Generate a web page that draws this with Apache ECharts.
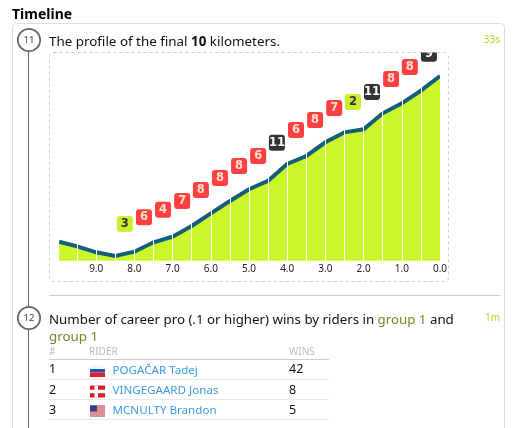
<!DOCTYPE html>
<html><head><meta charset="utf-8">
<style>html,body{margin:0;padding:0;background:#fff}#c{width:513px;height:428px}</style>
<script src="https://cdn.jsdelivr.net/npm/echarts@6/dist/echarts.min.js"></script>
</head><body><div id="c"></div>
<script>
const profileKm = [9.97,9.5,9,8.5,8,7.5,7,6.5,6,5.5,5,4.5,4,3.5,3,2.5,2,1.5,1,0.5,0];
const profileHeight = [19,14.4,8.4,4.7,9,18.4,24,34.7,47.4,59.7,71.4,80,96.7,104.7,118.4,128.4,131.4,147.4,157.4,170,184.7];
const badgeKm = [8.25,7.75,7.25,6.75,6.26,5.76,5.26,4.76,4.27,3.77,3.27,2.77,2.28,1.78,1.28,0.79,0.29];
const badgeHeight = [36.7,43.4,51,59.7,70.7,82.7,94.7,104.7,118,130.7,140.7,152.7,158.7,168.7,181.7,193.7,207];
const badgeValue = [3,6,4,7,8,8,8,6,11,6,8,7,2,11,8,8,9];
const ranks = ['1','2','3'];
const riders = ['POGAČAR Tadej','VINGEGAARD Jonas','MCNULTY Brandon'];
const wins = ['42','8','5'];
const F = 'Tahoma, "Noto Sans", sans-serif';
const fill = '#cbf62c', stroke = '#135f7a';
function badgeStyle(v){
  if (v === 2 || v === 3) return {bg:'#c8f02c', fg:'#333333'};
  if (v === 9 || v === 11) return {bg:'#333333', fg:'#ffffff'};
  return {bg:'#ff4040', fg:'#ffe0d0'};
}
const T = (x,y,text,o={}) => ({type:'text',x,y,style:Object.assign({text,fill:'#111',font:'13.4px '+F,textVerticalAlign:'middle'},o)});
const L = (x1,y1,x2,y2,c,w=1) => ({type:'line',shape:{x1,y1,x2,y2},style:{stroke:c,lineWidth:w}});
const R = (x,y,w,h,c) => ({type:'rect',shape:{x,y,width:w,height:h},style:{fill:c}});
const circle = (cy,t) => [
  {type:'circle',shape:{cx:29,cy,r:11.2},style:{fill:'#fff',stroke:'#666',lineWidth:1.7}},
  T(29,cy,t,{font:'9.5px '+F,fill:'#444',textAlign:'center'})
];
const rowY = [369.5,390,410];
const stripes = [365,367,369,371,373,375].map(y=>R(90,y,15,1,'#c02838'));
const flags = [
  [R(90,365,15,4,'#f6f6f6'),R(90,369,15,3.5,'#2a50b4'),R(90,372.5,15,4.5,'#e02020')],
  [R(90,365,15,12,'#d8202c'),R(94.5,365,3.5,12,'#fafafa'),R(90,369.2,15,3.5,'#fafafa')],
  [R(90,365,15,12,'#f4f4f4'),...stripes,R(90,365,7,6,'#2f3f88')]
];
const graphics = [
  {type:'rect',shape:{x:12.5,y:23.5,width:492,height:480,r:4},style:{fill:'none',stroke:'#ddd',lineWidth:1}},
  T(12,15,'Timeline',{font:'bold 14px '+F,fill:'#000'}),
  L(28.5,48,28.5,428,'#666',1),
  ...circle(40,'11'),
  ...circle(318,'12'),
  {type:'text',x:49,y:42,style:{text:'{a|The profile of the final }{b|10}{a| kilometers.}',rich:{a:{font:'13.4px '+F,fill:'#111'},b:{font:'bold 13.4px '+F,fill:'#111'}},textVerticalAlign:'middle'}},
  T(500,40,'33s',{font:'10px '+F,fill:'#b4d32c',textAlign:'right'}),
  {type:'rect',shape:{x:49.5,y:52.5,width:399,height:229,r:4},style:{fill:'none',stroke:'#ccc',lineWidth:1,lineDash:[3,3]}},
  L(49,295.5,500,295.5,'#ccc',1),
  {type:'text',x:49,y:320,style:{text:'{a|Number of career pro (.1 or higher) wins by riders in }{g|group 1}{a| and}',rich:{a:{font:'13.3px '+F,fill:'#111'},g:{font:'13.3px '+F,fill:'#6f8a24'}},textVerticalAlign:'middle'}},
  T(49,337.5,'group 1',{fill:'#6f8a24'}),
  T(500,318,'1m',{font:'10px '+F,fill:'#b4d32c',textAlign:'right'}),
  T(49,352.5,'#',{font:'10px '+F,fill:'#bbb'}),
  T(89,352.5,'RIDER',{font:'10px '+F,fill:'#bbb'}),
  T(289,352.5,'WINS',{font:'10px '+F,fill:'#bbb'}),
  L(49,359.5,329,359.5,'#ccc',1),
  L(49,379.5,329,379.5,'#e8e8e8',1),
  L(49,399.5,329,399.5,'#e8e8e8',1),
  L(49,419.5,329,419.5,'#e8e8e8',1)
];
riders.forEach((r,i)=>{
  graphics.push(T(49,rowY[i],ranks[i],{font:'12.5px '+F}));
  graphics.push(T(112.5,rowY[i]+1,r,{font:'11.6px '+F,fill:'#3a9be0'}));
  graphics.push(T(289,rowY[i],wins[i],{font:'12.5px '+F}));
  flags[i].forEach(el=>{ graphics.push(Object.assign({},el,{y:rowY[i]-rowY[0]})); });
});
const chart = echarts.init(document.getElementById('c'),null,{renderer:'canvas'});
chart.setOption({
  animation:false,
  backgroundColor:'#fff',
  graphic:{elements:graphics},
  grid:{left:58,top:52.5,width:382,height:208.2},
  xAxis:{type:'value',inverse:true,min:0,max:10,interval:0.5,z:5,
    axisLine:{show:false},axisTick:{show:false},
    splitLine:{show:true,lineStyle:{color:'#fff',width:1}},
    axisLabel:{margin:3,fontSize:10,fontFamily:F,color:'#222',showMaxLabel:false,
      formatter:v=>(Number.isInteger(v)?v.toFixed(1):'')}},
  yAxis:{type:'value',min:0,max:208.2,show:false},
  series:[
    {type:'line',data:profileKm.map((k,i)=>[k,profileHeight[i]]),symbol:'none',z:2,
      lineStyle:{color:stroke,width:4,cap:'butt',join:'miter'},areaStyle:{color:fill,opacity:1}},
    {type:'custom',z:10,clip:true,coordinateSystem:'cartesian2d',
      encode:{x:0,y:1},
      data:badgeKm.map((k,i)=>[k,badgeHeight[i],badgeValue[i]]),
      renderItem:(params,api)=>{
        const c = api.coord([api.value(0),api.value(1)]);
        const s = badgeStyle(api.value(2));
        return {type:'group',children:[
          {type:'rect',shape:{x:c[0]-8,y:c[1]-8,width:16,height:16,r:3},style:{fill:s.bg}},
          {type:'text',x:c[0],y:c[1],style:{text:String(api.value(2)),fill:s.fg,font:'bold 11.5px "DejaVu Sans"',textAlign:'center',textVerticalAlign:'middle'}}
        ]};
      }}
  ]
});
</script></body></html>
